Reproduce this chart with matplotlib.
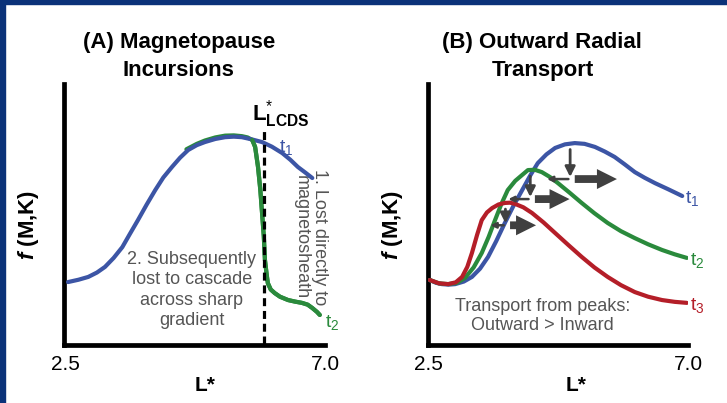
import matplotlib
matplotlib.use("Agg")
import matplotlib.pyplot as plt
from matplotlib.patches import Rectangle
import numpy as np

plt.rcParams['font.family'] = ['Liberation Sans', 'DejaVu Sans']
plt.rcParams['mathtext.fontset'] = 'custom'
plt.rcParams['mathtext.rm'] = 'Liberation Sans'
plt.rcParams['mathtext.it'] = 'Liberation Sans:italic:bold'
plt.rcParams['mathtext.bf'] = 'Liberation Sans:bold'

BLUE = '#3c55a5'
GREEN = '#2a8a3c'
RED = '#b41e28'
GREY = '#555555'
ARROW = '#404040'

# panel A: magnetopause incursions (L*, f in arbitrary units)
a_t1_L = [2.55, 2.73, 2.90, 3.05, 3.19, 3.34, 3.49, 3.62, 3.76, 3.91, 4.06, 4.20, 4.35, 4.49,
          4.63, 4.78, 4.92, 5.10, 5.27, 5.42, 5.56, 5.74, 5.91, 6.08, 6.26, 6.40, 6.53, 6.66, 6.78]
a_t1_f = [2.41, 2.50, 2.61, 2.78, 3.00, 3.35, 3.77, 4.28, 4.82, 5.42, 5.99, 6.48, 6.89, 7.25,
          7.55, 7.74, 7.86, 7.98, 8.05, 8.07, 8.05, 7.96, 7.86, 7.68, 7.43, 7.17, 6.89, 6.67, 6.46]
# t2 follows t1 on the inner side, only visible from near the peak outward
a_t2_L = [4.60, 4.78, 4.92, 5.10, 5.27, 5.42, 5.56, 5.66, 5.74, 5.79, 5.84, 5.88, 5.91, 5.94,
          5.96, 5.99, 6.01, 6.06, 6.13, 6.22, 6.36, 6.48, 6.60, 6.70, 6.78, 6.86, 6.91]
a_t2_f = [7.58, 7.79, 7.92, 8.04, 8.11, 8.12, 8.09, 8.04, 7.94, 7.67, 6.89, 6.00, 5.10, 4.20,
          3.27, 2.70, 2.37, 2.12, 1.98, 1.84, 1.71, 1.65, 1.60, 1.53, 1.40, 1.25, 1.13]
L_lcds = 5.94

# panel B: outward radial transport
b_t1_L = [2.53, 2.64, 2.74, 2.86, 2.97, 3.12, 3.26, 3.40, 3.54, 3.68, 3.83, 3.98, 4.13, 4.27,
          4.40, 4.55, 4.70, 4.87, 5.04, 5.21, 5.39, 5.56, 5.73, 5.90, 6.08, 6.25, 6.43, 6.66, 6.90]
b_t1_f = [2.49, 2.38, 2.33, 2.31, 2.33, 2.43, 2.61, 2.93, 3.39, 4.00, 4.71, 5.38, 5.99, 6.56,
          7.04, 7.38, 7.63, 7.77, 7.82, 7.79, 7.67, 7.49, 7.28, 7.00, 6.69, 6.47, 6.26, 6.02, 5.76]
b_t2_L = [2.53, 2.69, 2.85, 3.00, 3.14, 3.29, 3.43, 3.55, 3.66, 3.77, 3.88, 4.01, 4.13, 4.23,
          4.35, 4.47, 4.61, 4.75, 4.95, 5.16, 5.38, 5.61, 5.84, 6.08, 6.31, 6.55, 6.77, 6.98]
b_t2_f = [2.49, 2.36, 2.33, 2.38, 2.57, 2.98, 3.54, 4.17, 4.82, 5.45, 5.99, 6.35, 6.58, 6.77,
          6.78, 6.69, 6.50, 6.26, 5.89, 5.49, 5.09, 4.71, 4.39, 4.12, 3.88, 3.66, 3.49, 3.35]
b_t3_L = [2.53, 2.69, 2.85, 2.98, 3.09, 3.18, 3.26, 3.35, 3.43, 3.52, 3.61, 3.72, 3.83, 3.92,
          4.01, 4.15, 4.30, 4.50, 4.70, 4.93, 5.16, 5.38, 5.61, 5.84, 6.08, 6.31, 6.55, 6.77, 6.98]
b_t3_f = [2.49, 2.36, 2.33, 2.40, 2.61, 3.00, 3.54, 4.25, 4.82, 5.12, 5.29, 5.43, 5.49, 5.50,
          5.45, 5.32, 5.10, 4.73, 4.32, 3.85, 3.39, 2.98, 2.61, 2.29, 2.02, 1.84, 1.71, 1.64, 1.60]

# arrow lengths (in L* / f) from each peak: down, inward, outward
b_drop = [1.32, 1.06, 0.80]
b_inward = [0.40, 0.38, 0.26]
b_outward = [0.73, 0.60, 0.45]

fig = plt.figure(figsize=(7.27, 4.03), dpi=100)
fig.patches.append(Rectangle((0, 0), 5 / 727, 1, transform=fig.transFigure, color='#0b3279', zorder=10))
fig.patches.append(Rectangle((0, 1 - 4 / 403), 1, 4 / 403, transform=fig.transFigure, color='#0b3279', zorder=10))

axA = fig.add_axes([64 / 727, 58 / 403, 261 / 727, 261 / 403])
axB = fig.add_axes([428 / 727, 58 / 403, 260 / 727, 261 / 403])

for ax, xl in ((axA, (2.48, 7.0)), (axB, (2.5, 7.0))):
    ax.set_xlim(*xl)
    ax.set_ylim(-0.04, 10.12)
    for s in ('top', 'right'):
        ax.spines[s].set_visible(False)
    for s in ('left', 'bottom'):
        ax.spines[s].set_linewidth(3.4)
    ax.set_yticks([])
    ax.set_xticks([2.5, 7.0])
    ax.set_xticklabels(['2.5', '7.0'], fontsize=15)
    ax.tick_params(axis='x', length=0, pad=7)
    ax.set_ylabel('$f$ (M,K)', fontsize=16, fontweight='bold')
    ax.yaxis.set_label_coords(-0.088, 0.46)
    ax.set_xlabel('L*', fontsize=15, fontweight='bold')

axA.xaxis.set_label_coords(0.54, -0.12)
axB.xaxis.set_label_coords(0.57, -0.12)

# ---- panel A
axA.plot(a_t2_L, a_t2_f, color=GREEN, lw=3, solid_capstyle='round', zorder=3)
axA.plot(a_t1_L, a_t1_f, color=BLUE, lw=3, solid_capstyle='round', zorder=4)
axA.plot(a_t2_L[8:], a_t2_f[8:], color=GREEN, lw=3, solid_capstyle='round', zorder=4)
axA.plot([L_lcds, L_lcds], [0, 8.44], color='black', lw=2.3, ls=(0, (2.5, 1.5)), zorder=5)
axA.text(L_lcds - 0.2, 8.7, r'L$^{*}_{\mathbf{LCDS}}$', fontsize=16, fontweight='bold',
         ha='left', va='baseline')
axA.text(6.2, 7.65, 't$_1$', color=BLUE, fontsize=14, ha='left', va='center')
axA.text(7.0, 0.85, 't$_2$', color=GREEN, fontsize=14, ha='left', va='center', clip_on=False)
axA.text(0.44, 1.105, '(A) Magnetopause\nIncursions', transform=axA.transAxes, fontsize=16,
         fontweight='bold', ha='center', va='center', linespacing=1.45)
axA.text(0.49, 0.21, '2. Subsequently\nlost to cascade\nacross sharp\ngradient',
         transform=axA.transAxes, fontsize=13, color=GREY, ha='center', va='center', linespacing=1.27)
axA.text(0.945, 0.415, '1. Lost directly to\nmagnetosheath', transform=axA.transAxes,
         fontsize=13, color=GREY, ha='center', va='center', rotation=-90, linespacing=1.1)

# ---- panel B
curves = [(b_t1_L, b_t1_f, BLUE, 't$_1$'), (b_t2_L, b_t2_f, GREEN, 't$_2$'), (b_t3_L, b_t3_f, RED, 't$_3$')]
for i, (L, f, c, lab) in enumerate(curves):
    axB.plot(L, f, color=c, lw=3, solid_capstyle='round', zorder=3 + i)
    axB.text(L[-1] + 0.05, f[-1] - 0.1, lab, color=c, fontsize=14, ha='left', va='center', clip_on=False)

for i, (L, f, c, lab) in enumerate(curves):
    k = int(np.argmax(f))
    xp, yp = L[k] - 0.08, f[k] - 0.25
    yb = f[k] - b_drop[i]
    yh = yb - 0.08
    axB.annotate('', xy=(xp, yb), xytext=(xp, yp),
                 arrowprops=dict(arrowstyle='-|>', color=ARROW, lw=2, mutation_scale=15,
                                 shrinkA=0, shrinkB=0), zorder=8)
    axB.annotate('', xy=(xp - b_inward[i], yh), xytext=(xp - 0.03, yh),
                 arrowprops=dict(arrowstyle='-|>', color=ARROW, lw=1.8, mutation_scale=8,
                                 shrinkA=0, shrinkB=0), zorder=8)
    axB.annotate('', xy=(xp + 0.08 + b_outward[i], yh), xytext=(xp + 0.08, yh),
                 arrowprops=dict(arrowstyle='simple,head_length=0.9,head_width=0.9,tail_width=0.35',
                                 color=ARROW, lw=0, mutation_scale=16, shrinkA=0, shrinkB=0), zorder=8)

axB.text(0.44, 0.11, 'Transport from peaks:\nOutward > Inward', transform=axB.transAxes,
         fontsize=13, color=GREY, ha='center', va='center', linespacing=1.15)
axB.text(0.44, 1.105, '(B) Outward Radial\nTransport', transform=axB.transAxes, fontsize=16,
         fontweight='bold', ha='center', va='center', linespacing=1.45)

fig.savefig('out.png', dpi=100)
